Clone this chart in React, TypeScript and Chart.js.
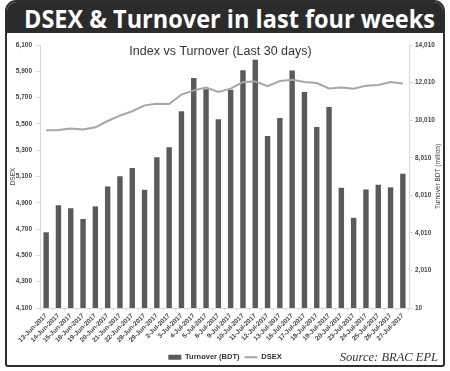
import React, { useEffect, useLayoutEffect, useRef } from "react";
import { Chart, registerables } from "chart.js";

Chart.register(...registerables);

const categories = [
  "13-Jun-2017", "14-Jun-2017", "15-Jun-2017", "18-Jun-2017", "19-Jun-2017",
  "20-Jun-2017", "21-Jun-2017", "22-Jun-2017", "28-Jun-2017", "29-Jun-2017",
  "2-Jul-2017", "3-Jul-2017", "4-Jul-2017", "5-Jul-2017", "6-Jul-2017",
  "9-Jul-2017", "10-Jul-2017", "11-Jul-2017", "12-Jul-2017", "13-Jul-2017",
  "16-Jul-2017", "17-Jul-2017", "18-Jul-2017", "19-Jul-2017", "20-Jul-2017",
  "23-Jul-2017", "24-Jul-2017", "25-Jul-2017", "26-Jul-2017", "27-Jul-2017",
];

const turnover = [
  4040, 5480, 5320, 4750, 5420, 6480, 7020, 7460, 6300, 8030,
  8570, 10490, 12260, 11650, 10060, 11630, 12670, 13220, 9170, 10120,
  12650, 11510, 9640, 10710, 6410, 4810, 6320, 6570, 6430, 7160,
];

const dsex = [
  5451, 5454, 5465, 5457, 5474, 5522, 5563, 5596, 5641, 5654,
  5651, 5723, 5755, 5776, 5743, 5768, 5818, 5823, 5786, 5826,
  5836, 5818, 5811, 5770, 5776, 5768, 5791, 5796, 5818, 5808,
];

const dsexTicks = [4100, 4300, 4500, 4700, 4900, 5100, 5300, 5500, 5700, 5900, 6100];
const turnoverTicks = [10, 2010, 4010, 6010, 8010, 10010, 12010, 14010];

const headerText = "DSEX & Turnover in last four weeks";
const chartTitle = "Index vs Turnover (Last 30 days)";
const leftAxisTitle = "DSEX";
const rightAxisTitle = "Turnover BDT (million)";
const sourceText = "Source: BRAC EPL";

const BAR_COLOR = "#5a5a5a";
const LINE_COLOR = "#a6a6a6";
const AXIS_COLOR = "#d9d9d9";
const TICK_COLOR = "#444444";
const FONT = "'Liberation Sans', Arial, sans-serif";

const overlayText = {
  id: "overlayText",
  afterDraw(chart: any) {
    const { ctx, chartArea } = chart;
    const midY = (chartArea.top + chartArea.bottom) / 2;
    ctx.save();
    ctx.fillStyle = "#333333";
    ctx.textAlign = "center";
    ctx.textBaseline = "middle";
    ctx.font = `12.5px ${FONT}`;
    ctx.fillText(chartTitle, 220.5, 51.5);

    ctx.fillStyle = TICK_COLOR;
    ctx.font = `6.5px ${FONT}`;
    ctx.save();
    ctx.translate(13, midY);
    ctx.rotate(-Math.PI / 2);
    ctx.fillText(leftAxisTitle, 0, 0);
    ctx.restore();
    ctx.save();
    ctx.translate(438, midY);
    ctx.rotate(-Math.PI / 2);
    ctx.fillText(rightAxisTitle, 0, 0);
    ctx.restore();
    ctx.restore();
  },
};

function ChartCanvas() {
  const ref = useRef<HTMLCanvasElement | null>(null);
  useEffect(() => {
    if (!ref.current) return;
    const tickFont = { family: FONT, size: 6.5, weight: "bold" as const };
    const chart = new Chart(ref.current, {
      type: "bar",
      data: {
        labels: categories,
        datasets: [
          {
            type: "bar",
            label: "Turnover (BDT)",
            data: turnover,
            backgroundColor: BAR_COLOR,
            borderWidth: 0,
            yAxisID: "y1",
            barPercentage: 0.44,
            categoryPercentage: 1,
            order: 2,
            pointStyle: "rect",
          } as any,
          {
            type: "line",
            label: "DSEX",
            data: dsex,
            borderColor: LINE_COLOR,
            backgroundColor: LINE_COLOR,
            borderWidth: 2,
            pointRadius: 0,
            tension: 0,
            yAxisID: "y",
            order: 1,
            pointStyle: "line",
          } as any,
        ],
      },
      options: {
        responsive: false,
        animation: false,
        devicePixelRatio: 1,
        layout: { padding: { left: 0, right: 0, top: 45, bottom: 0 } },
        plugins: {
          legend: {
            position: "bottom",
            labels: {
              usePointStyle: true,
              pointStyleWidth: 13,
              boxHeight: 5,
              padding: 5,
              color: "#333333",
              font: { family: FONT, size: 7.5, weight: "bold" },
              sort: (a: any, b: any) => a.datasetIndex - b.datasetIndex,
            },
          },
          tooltip: { enabled: false },
          title: { display: false },
        },
        scales: {
          x: {
            grid: { display: true, drawOnChartArea: false, color: AXIS_COLOR, tickLength: 3 },
            border: { color: AXIS_COLOR },
            ticks: { color: TICK_COLOR, font: tickFont, maxRotation: 45, minRotation: 45, autoSkip: false, padding: 1 },
            afterFit: (s: any) => { s.height = 40.5; },
          },
          y: {
            position: "left",
            min: 4100,
            max: 6100,
            grid: { display: true, drawOnChartArea: false, color: AXIS_COLOR, tickLength: 4 },
            border: { color: AXIS_COLOR },
            ticks: { color: TICK_COLOR, font: tickFont, padding: 4, stepSize: 200 },
            afterBuildTicks: (s: any) => { s.ticks = dsexTicks.map((v) => ({ value: v })); },
            afterFit: (s: any) => { s.width = 40; },
          },
          y1: {
            position: "right",
            min: 10,
            max: 14010,
            grid: { display: true, drawOnChartArea: false, color: AXIS_COLOR, tickLength: 4 },
            border: { color: AXIS_COLOR },
            ticks: { color: TICK_COLOR, font: tickFont, padding: 2, stepSize: 2000 },
            afterBuildTicks: (s: any) => { s.ticks = turnoverTicks.map((v) => ({ value: v })); },
            afterFit: (s: any) => { s.width = 41; },
          },
        },
      } as any,
      plugins: [overlayText],
    });
    return () => chart.destroy();
  }, []);
  return (
    <canvas
      ref={ref}
      width={450}
      height={371}
      style={{ position: "absolute", left: 0, top: 0, width: 450, height: 371 }}
    />
  );
}

export default function App() {
  const spanRef = useRef<HTMLSpanElement | null>(null);
  useLayoutEffect(() => {
    const el = spanRef.current;
    if (!el) return;
    el.style.transform = "none";
    const w = el.getBoundingClientRect().width;
    if (w > 0) el.style.transform = `scaleX(${411 / w})`;
  }, []);
  return (
    <div
      style={{
        position: "fixed",
        left: 0,
        top: 0,
        width: 450,
        height: 371,
        background: "#ffffff",
        overflow: "hidden",
      }}
    >
      <div
        style={{
          position: "absolute",
          left: 5,
          top: 0,
          width: 436,
          height: 363,
          border: "2.5px solid #2e2e2e",
          borderRadius: "11px 11px 3px 3px",
          overflow: "hidden",
          background: "#ffffff",
        }}
      >
        <div style={{ height: 31, background: "#2b2b2b" }} />
      </div>
      <div
        style={{
          position: "absolute",
          left: 24,
          top: 6,
          width: 420,
          height: 25,
          whiteSpace: "nowrap",
          fontFamily: "'Open Sans', sans-serif",
          fontWeight: 700,
          fontSize: 25,
          lineHeight: "25px",
          color: "#ffffff",
        }}
      >
        <span ref={spanRef} style={{ display: "inline-block", transformOrigin: "left center" }}>
          {headerText}
        </span>
      </div>
      <ChartCanvas />
      <div
        style={{
          position: "absolute",
          right: 12,
          top: 351,
          fontFamily: "'Liberation Serif', 'Times New Roman', serif",
          fontStyle: "italic",
          fontSize: 12.5,
          lineHeight: "13px",
          color: "#333333",
          whiteSpace: "nowrap",
        }}
      >
        {sourceText}
      </div>
    </div>
  );
}
